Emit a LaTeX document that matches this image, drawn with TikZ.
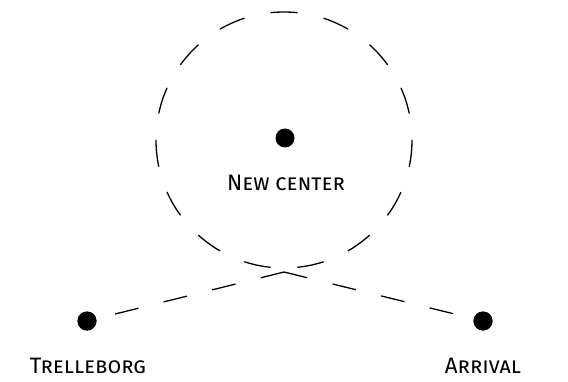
\documentclass[tikz,border=0pt]{standalone}
\usepackage{fontspec}
\setmainfont{Fira Sans}
\begin{document}
\begin{tikzpicture}[x=1pt,y=1pt,
  dot/.style={circle,fill=black,inner sep=0pt,minimum size=19pt},
  lbl/.style={font=\fontsize{22.3}{26}\selectfont\scshape,inner sep=0pt},
  dline/.style={line width=1.3pt,dash pattern=on 24pt off 26pt},
  dcirc/.style={line width=1.3pt,dash pattern=on 27pt off 26.62pt,dash phase=26.92pt}]
\useasboundingbox (0,0) rectangle (568,381);
\draw[dcirc] (284,241) circle[radius=128];
\node[dot] (nc) at (285,243) {};
\node[dot] (tb) at (87,60) {};
\node[dot] (ar) at (483,60) {};
\coordinate (peak) at (284,109);
\draw[dline] (peak) -- (tb.center);
\draw[dline] (peak) -- (ar.center);
\node[dot] at (tb) {};
\node[dot] at (ar) {};
\node[lbl] (lnc) at (286,198) {New center};
\node[lbl] (ltb) at (88,15) {Trelleborg};
\node[lbl] (lar) at (483,15) {Arrival};
\end{tikzpicture}
\end{document}
